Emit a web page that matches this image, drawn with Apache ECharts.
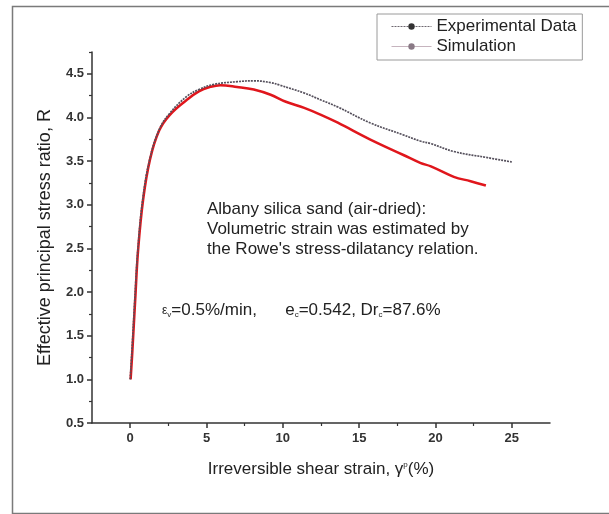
<!DOCTYPE html>
<html>
<head>
<meta charset="utf-8">
<script src="https://cdn.jsdelivr.net/npm/echarts@6/dist/echarts.min.js"></script>
<style>
html,body{margin:0;padding:0;background:#fff;}
#c{width:609px;height:514px;}
</style>
</head>
<body>
<div id="c"></div>
<script>
// Experimental data: irreversible shear strain (%) and stress ratio R
const expStrain = [0, 0.12, 0.3, 0.5, 0.82, 1.28, 1.9, 2.6, 3.7, 4.5, 5.5, 7.0, 8.1, 9.2, 9.8, 11.4, 12.5, 13.6, 15.7, 17.9, 19.0, 19.7, 21.2, 23.4, 25.0];
const expR =      [1.0, 1.34, 1.91, 2.48, 3.06, 3.52, 3.86, 4.05, 4.24, 4.32, 4.38, 4.41, 4.42, 4.40, 4.37, 4.28, 4.20, 4.12, 3.94, 3.80, 3.73, 3.70, 3.61, 3.54, 3.49];
// Simulation
const simStrain = [0.03, 0.15, 0.33, 0.52, 0.85, 1.3, 1.9, 2.6, 3.7, 4.5, 5.25, 5.9, 7.0, 8.1, 9.2, 10.2, 11.4, 12.5, 13.6, 15.7, 17.9, 19.0, 19.7, 21.2, 22.3, 23.3];
const simR =      [1.0, 1.34, 1.91, 2.48, 3.06, 3.52, 3.85, 4.03, 4.20, 4.30, 4.35, 4.37, 4.35, 4.32, 4.26, 4.18, 4.11, 4.03, 3.94, 3.75, 3.57, 3.48, 3.44, 3.32, 3.27, 3.22];
// Tick labels
const xMajorTicks = [0, 5, 10, 15, 20, 25];
const xMinorTicks = [2.5, 7.5, 12.5, 17.5, 22.5];
const yMajorTicks = [0.5, 1.0, 1.5, 2.0, 2.5, 3.0, 3.5, 4.0, 4.5];
const yMinorTicks = [0.75, 1.25, 1.75, 2.25, 2.75, 3.25, 3.75, 4.25, 4.75];

const FONT = 'Liberation Sans, Arial, sans-serif';
const chart = echarts.init(document.getElementById('c'));
const axisCol = '#333';

const zip = (a, b) => a.map((v, i) => [v, b[i]]);

chart.setOption({
  backgroundColor: '#fff',
  animation: false,
  textStyle: { fontFamily: FONT },
  grid: { left: 92, top: 52, right: 59, bottom: 91, containLabel: false },
  legend: {
    orient: 'vertical',
    left: 377, top: 14,
    itemWidth: 40, itemHeight: 8, itemGap: 3,
    padding: [4, 6, 5, 14],
    borderColor: '#9a9a9a', borderWidth: 1,
    textStyle: { fontFamily: FONT, fontSize: 17, color: '#222' },
    data: [
      { name: 'Experimental Data', lineStyle: { color: '#6e6870', width: 1 }, itemStyle: { color: '#333' } },
      { name: 'Simulation', lineStyle: { color: '#c6b4be', width: 1 }, itemStyle: { color: '#8a7a86' } }
    ]
  },
  xAxis: [{
    type: 'value', min: -2.5, max: 27.5, interval: 2.5,
    axisLine: { onZero: false, lineStyle: { color: axisCol, width: 1.5 } },
    axisTick: { customValues: xMajorTicks, length: 5, lineStyle: { color: axisCol, width: 1.5 } },
    axisLabel: { customValues: xMajorTicks, color: '#333', fontSize: 13, fontWeight: 'bold', margin: 9, fontFamily: FONT },
    splitLine: { show: false },
    name: 'Irreversible shear strain, γ{sup|p}(%)',
    nameLocation: 'middle', nameGap: 38,
    nameTextStyle: { fontSize: 17, color: '#222', fontFamily: FONT,
      rich: { sup: { fontSize: 8, verticalAlign: 'top', padding: [0, 0, 9, 0], color: '#222', fontFamily: FONT } } }
  }, {
    type: 'value', min: -2.5, max: 27.5, interval: 2.5, position: 'bottom',
    axisLine: { show: false, onZero: false },
    axisTick: { customValues: xMinorTicks, length: 3, lineStyle: { color: axisCol, width: 1.2 } },
    axisLabel: { show: false },
    splitLine: { show: false }
  }],
  yAxis: [{
    type: 'value', min: 0.5, max: 4.75, interval: 0.25,
    axisLine: { show: true, onZero: false, lineStyle: { color: axisCol, width: 1.5 } },
    axisTick: { customValues: yMajorTicks, length: 5, lineStyle: { color: axisCol, width: 1.5 } },
    axisLabel: { customValues: yMajorTicks, formatter: v => v.toFixed(1), color: '#333', fontSize: 13, fontWeight: 'bold', margin: 8, fontFamily: FONT },
    splitLine: { show: false },
    name: 'Effective principal stress ratio, R',
    nameLocation: 'middle', nameGap: 38,
    nameTextStyle: { fontSize: 18, color: '#222', fontFamily: FONT }
  }, {
    type: 'value', min: 0.5, max: 4.75, interval: 0.25, position: 'left',
    axisLine: { show: false, onZero: false },
    axisTick: { customValues: yMinorTicks, length: 3, lineStyle: { color: axisCol, width: 1.2 } },
    axisLabel: { show: false },
    splitLine: { show: false }
  }],
  series: [{
    name: 'Simulation', type: 'line', smooth: 0.4,
    symbol: 'circle', symbolSize: 3, showSymbol: false,
    data: zip(simStrain, simR),
    lineStyle: { color: '#e0161c', width: 2.5 },
    itemStyle: { color: '#e0161c' },
    z: 2
  }, {
    name: 'Experimental Data', type: 'line', smooth: 0.4,
    symbol: 'circle', symbolSize: 3, showSymbol: false,
    data: zip(expStrain, expR),
    lineStyle: { color: '#55505c', width: 1.7, type: [2, 1] },
    itemStyle: { color: '#333' },
    z: 3
  }],
  graphic: [
    { type: 'rect', left: 10, top: 4, shape: { width: 605, height: 507 }, style: { fill: 'none', stroke: '#7a7a7a', lineWidth: 1.5 }, silent: true, z: -1 },
    { type: 'text', left: 207, top: 199, style: { text: 'Albany silica sand (air-dried):\nVolumetric strain was estimated by\nthe Rowe\'s stress-dilatancy relation.', font: '17px ' + FONT, fill: '#222', lineHeight: 20 } },
    { type: 'text', left: 162, top: 302, style: {
        text: '{s|ε}{sub|v}=0.5%/min,      e{sub|c}=0.542, Dr{sub|c}=87.6%',
        font: '17px ' + FONT, fill: '#222',
        rich: {
          s: { fontSize: 12, fontFamily: FONT, fill: '#222' },
          sub: { fontSize: 8, fontFamily: FONT, fill: '#222', verticalAlign: 'bottom', padding: [7, 0, 0, 0] }
        } } }
  ]
});
</script>
</body>
</html>
